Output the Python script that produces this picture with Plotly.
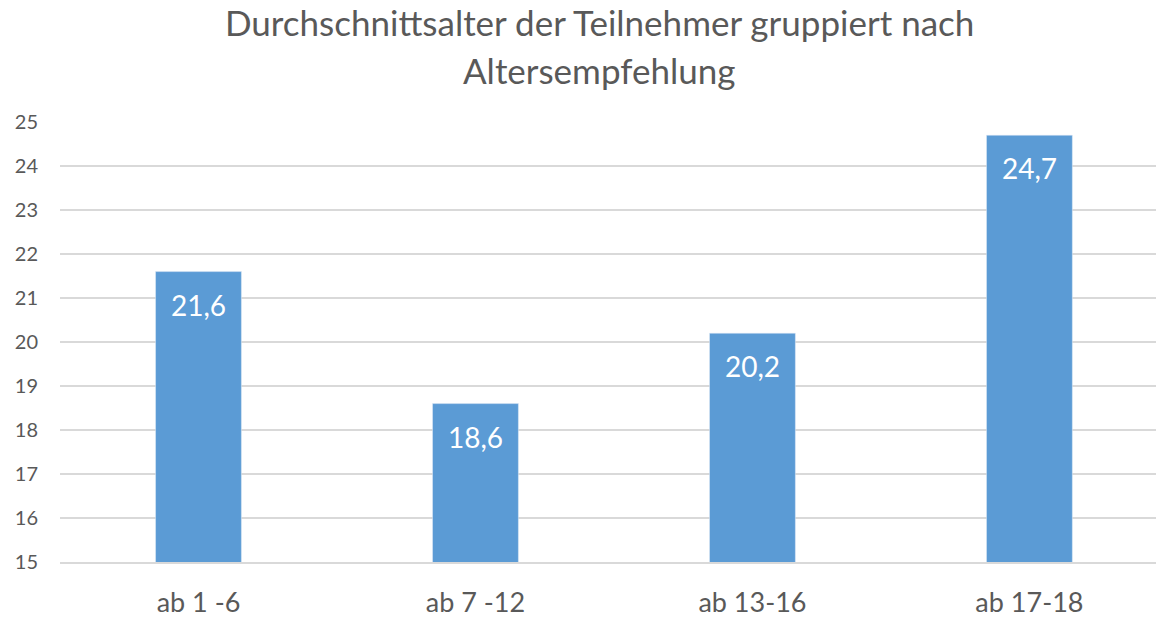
import plotly.graph_objects as go

categories = ["ab 1 -6", "ab 7 -12", "ab 13-16", "ab 17-18"]
values = [21.6, 18.6, 20.2, 24.7]
labels = ["21,6", "18,6", "20,2", "24,7"]
y_ticks = list(range(15, 26))
title_lines = ["Durchschnittsalter der Teilnehmer gruppiert nach", "Altersempfehlung"]

FONT = "Lato"
GRAY = "#595959"

fig = go.Figure(go.Bar(
    x=categories, y=values, marker_color="#5B9BD5", width=0.31,
    hoverinfo="skip"))

for c, v, t in zip(categories, values, labels):
    fig.add_annotation(x=c, y=v, text=t, showarrow=False, yanchor="middle",
                       yshift=-33, font=dict(family=FONT, size=28, color="white"))

for line, shift in zip(title_lines, [100, 52]):
    fig.add_annotation(xref="paper", yref="paper", x=0.492, y=1, text=line,
                       showarrow=False, xanchor="center", yanchor="middle",
                       yshift=shift, font=dict(family=FONT, size=35, color=GRAY))

fig.update_layout(
    width=1156, height=620,
    margin=dict(l=60, r=0, t=122, b=58, autoexpand=False),
    paper_bgcolor="white", plot_bgcolor="white",
    showlegend=False,
)
fig.update_yaxes(range=[15, 25], tickvals=y_ticks, showgrid=True, gridcolor="#D9D9D9",
                 gridwidth=1.5, zeroline=False, ticks="", ticklabelstandoff=21,
                 automargin=False,
                 tickfont=dict(family=FONT, size=20, color=GRAY))
fig.update_xaxes(range=[-0.5, 3.457], showline=True, linecolor="#D9D9D9", linewidth=1.5,
                 ticks="", ticklabelstandoff=16, automargin=False,
                 tickfont=dict(family=FONT, size=27, color=GRAY))

fig.write_html("out.html", config={"displayModeBar": False},
               post_script="document.body.style.margin='0';document.body.style.overflow='hidden';")
